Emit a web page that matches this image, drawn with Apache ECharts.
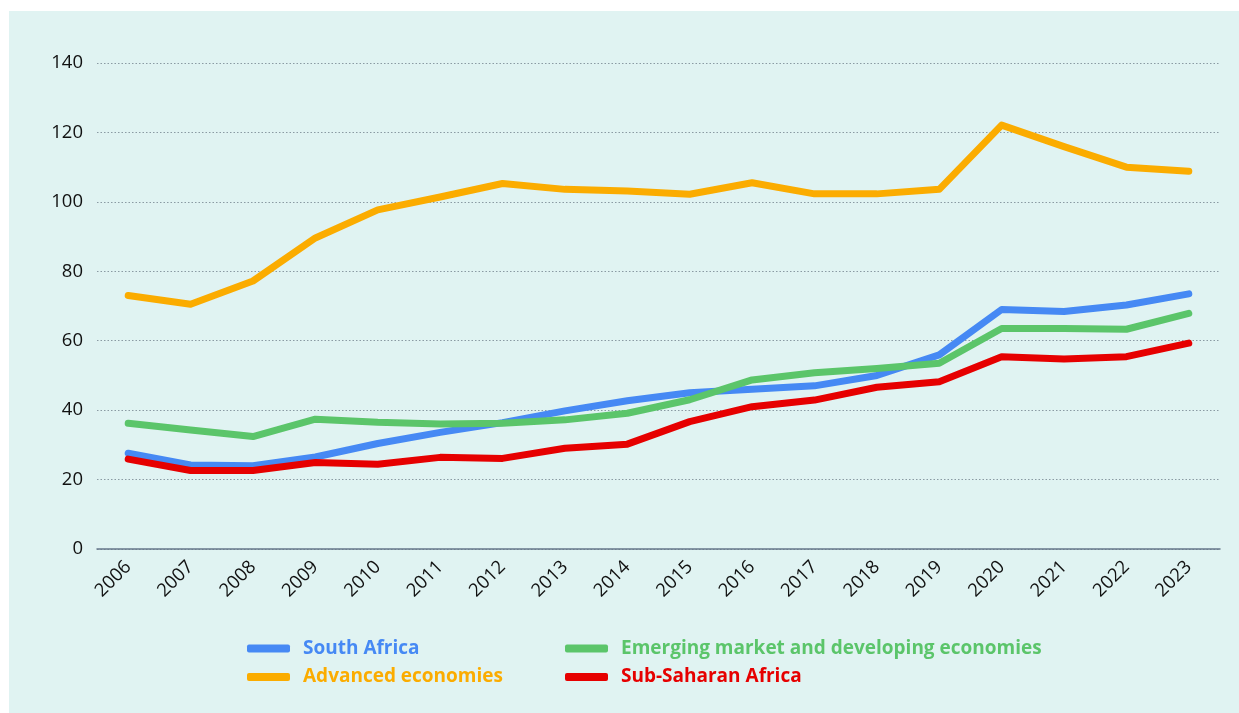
<!DOCTYPE html>
<html>
<head>
<meta charset="utf-8">
<script src="https://cdn.jsdelivr.net/npm/echarts@6/dist/echarts.min.js"></script>
<style>
html,body{margin:0;padding:0;background:#ffffff;}
#chart{width:1239px;height:713px;}
</style>
</head>
<body>
<div id="chart"></div>
<script>
const years = ['2006','2007','2008','2009','2010','2011','2012','2013','2014','2015','2016','2017','2018','2019','2020','2021','2022','2023'];
const southAfrica = [27.6,24.2,24.0,26.5,30.4,33.6,36.4,39.8,42.7,45.0,46.0,47.0,50.0,55.9,69.0,68.4,70.3,73.5];
const advanced = [73.0,70.5,77.2,89.6,97.7,101.4,105.3,103.6,103.1,102.2,105.5,102.3,102.3,103.6,122.1,115.9,110.0,108.8];
const emde = [36.2,34.3,32.4,37.4,36.5,36.0,36.2,37.2,39.1,43.0,48.7,50.8,52.0,53.5,63.5,63.5,63.3,67.9];
const ssa = [25.9,22.6,22.6,24.9,24.4,26.4,26.1,29.0,30.2,36.7,41.0,42.9,46.6,48.2,55.4,54.7,55.4,59.3];
const yTicks = {min:0, max:140, interval:20};

const colors = {
  'South Africa':'#4689f4',
  'Emerging market and developing economies':'#5bc56a',
  'Advanced economies':'#fbac00',
  'Sub-Saharan Africa':'#e60000'
};
const FONT = '"Open Sans", "Noto Sans", sans-serif';

function lineSeries(name, data){
  return {
    name:name, type:'line', data:data, symbol:'none', smooth:false,
    lineStyle:{width:7, color:colors[name], cap:'round', join:'round'},
    itemStyle:{color:colors[name]},
    emphasis:{disabled:true}
  };
}

function legendItem(name){
  return {name:name, textStyle:{color:colors[name]}};
}

const legendBase = {
  top:639, orient:'vertical', itemGap:9.5, itemWidth:43, itemHeight:8, icon:'roundRect', padding:0,
  selectedMode:false,
  textStyle:{fontFamily:FONT, fontSize:19, lineHeight:19, fontWeight:'bold', padding:[0,0,0,8]}
};

const chart = echarts.init(document.getElementById('chart'), null, {renderer:'canvas'});
chart.setOption({
  backgroundColor:'#ffffff',
  animation:false,
  graphic:[{type:'rect', z:-10, silent:true, shape:{x:9,y:11,width:1230,height:702}, style:{fill:'#e0f3f2'}}],
  grid:{left:97, right:19, top:63, bottom:164, containLabel:false},
  legend:[
    Object.assign({left:247, data:[legendItem('South Africa'), legendItem('Advanced economies')]}, legendBase),
    Object.assign({left:565, data:[legendItem('Emerging market and developing economies'), legendItem('Sub-Saharan Africa')]}, legendBase)
  ],
  xAxis:{
    type:'category', data:years, boundaryGap:true,
    axisLine:{show:true, lineStyle:{color:'#66778a', width:1.5}},
    axisTick:{show:false},
    axisLabel:{rotate:45, margin:15, color:'#111111', fontFamily:FONT, fontSize:18.5, interval:0}
  },
  yAxis:{
    type:'value', min:yTicks.min, max:yTicks.max, interval:yTicks.interval,
    axisLine:{show:false}, axisTick:{show:false},
    axisLabel:{margin:14, color:'#111111', fontFamily:FONT, fontSize:18.5},
    splitLine:{show:true, lineStyle:{color:'#8a9aa3', type:[1.5,2], width:1}}
  },
  series:[
    lineSeries('South Africa', southAfrica),
    lineSeries('Advanced economies', advanced),
    lineSeries('Emerging market and developing economies', emde),
    lineSeries('Sub-Saharan Africa', ssa)
  ]
});
</script>
</body>
</html>
